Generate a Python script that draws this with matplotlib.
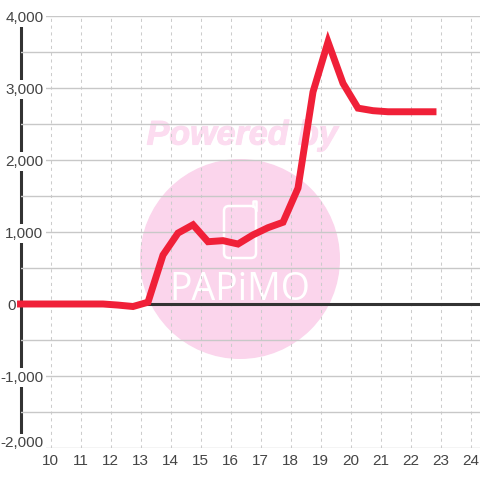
import matplotlib
matplotlib.use('Agg')
import matplotlib.pyplot as plt
import matplotlib.patheffects as pe
from matplotlib.patches import Circle, FancyBboxPatch
from matplotlib.transforms import ScaledTranslation

plt.rcParams['font.family'] = ['Liberation Sans', 'DejaVu Sans']

hours = [9, 11.75, 12.25, 12.75, 13.25, 13.75, 14.25, 14.75, 15.25, 15.75, 16.25,
         16.75, 17.25, 17.75, 18.25, 18.75, 19.25, 19.75, 20.25, 20.75, 21.25,
         21.75, 22.25, 22.75]
values = [0, 0, -15, -35, 25, 680, 985, 1100, 865, 880, 833,
          960, 1060, 1135, 1610, 2945, 3640, 3065, 2720, 2685, 2670,
          2670, 2670, 2670]
x_ticks = list(range(10, 25))
y_ticks = [-2000, -1000, 0, 1000, 2000, 3000, 4000]
y_minor = [-1500, -500, 500, 1500, 2500, 3500]

W = 480.0
fig = plt.figure(figsize=(4.8, 4.8), dpi=100, facecolor='white')
ax = fig.add_axes([20.5 / W, (480 - 448) / W, (480 - 20.5) / W, 432 / W])
ax.set_xlim(9, 9 + (480 - 20.5) / 30)
ax.set_ylim(-2000, 4000)
ax.patch.set_alpha(0)

# watermark, in pixel coordinates of the figure
bg = fig.add_axes([0, 0, 1, 1], zorder=-1)
bg.set_xlim(0, 480)
bg.set_ylim(480, 0)
bg.axis('off')
bg.add_patch(Circle((240, 259), 100, fc='#fbd5ec', ec='none'))
bg.add_patch(FancyBboxPatch((224, 206), 32, 52, boxstyle='round,pad=0,rounding_size=5',
                            fc='none', ec='white', lw=1.8))
bg.plot([253, 253, 256, 256], [206, 201, 201, 210], color='white', lw=1.8)
bg.text(242, 136, 'Powered by', color='#fcdcf0', fontsize=24.5, fontweight='bold',
        fontstyle='italic', ha='center', va='center',
        path_effects=[pe.withStroke(linewidth=0.8, foreground='#fcdcf0')])
bg.text(240, 290, 'PAPiMO', color='white', fontsize=27, ha='center', va='center',
        family='Open Sans')

ax.set_xticks(x_ticks)
ax.set_yticks(y_ticks)
ax.set_yticks(y_minor, minor=True)
ax.set_yticklabels(['-2,000', '-1,000', '0', '1,000', '2,000', '3,000', '4,000'])
ax.grid(axis='y', which='both', color='#c8c8c8', lw=1.0)
ax.grid(axis='x', color='#cccccc', lw=0.75, ls=(0, (3, 3.5)))
ax.tick_params(which='both', length=0)
ax.tick_params(axis='both', labelsize=11, labelcolor='#444444')
ax.tick_params(axis='y', pad=-16.5)
ax.tick_params(axis='x', pad=4.5)

for s in ['top', 'right', 'bottom']:
    ax.spines[s].set_visible(False)
ax.spines['left'].set_color('#333333')
ax.spines['left'].set_linewidth(2.2)
ax.spines['left'].set_zorder(1)

# the 0 label sits left of the axis line, the others over it
ax.yaxis.get_major_ticks()[2].set_pad(3.2)
for label in ax.get_yticklabels():
    label.set_bbox(dict(fc='white', ec='none', pad=1.5))
low = ax.get_yticklabels()[0]
low.set_va('bottom')
low.set_transform(low.get_transform() + ScaledTranslation(0, -0.02, fig.dpi_scale_trans))

ax.axhline(0, color='#333333', lw=2.2, zorder=2)
ax.plot(hours, values, color='#f02038', lw=5, solid_joinstyle='miter',
        solid_capstyle='projecting', clip_on=False, zorder=3)

fig.savefig('out.png', dpi=100)
plt.close()
